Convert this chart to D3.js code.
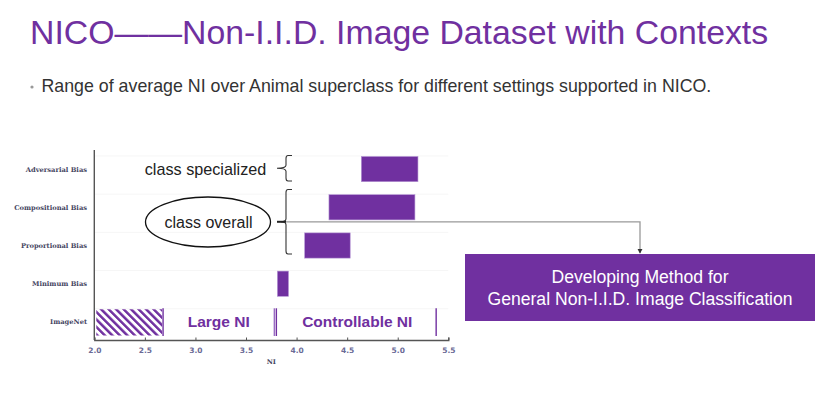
<!DOCTYPE html>
<html>
<head>
<meta charset="utf-8">
<title>NICO NI ranges</title>
<script src="https://d3js.org/d3.v7.min.js"></script>
<style>
  body { margin: 0; background: #fff; }
  text { font-family: "Liberation Sans", Arial, sans-serif; }
  .ylab { font-family: "DejaVu Serif", "Liberation Serif", serif; font-weight: bold; font-size: 6.7px; fill: #45455f; }
  .xtick text { font-family: "DejaVu Sans", sans-serif; font-weight: bold; font-size: 7.5px; fill: #6a6a96; }
</style>
</head>
<body>
<script>

// data
var categories = ["Adversarial Bias", "Compositional Bias", "Proportional Bias", "Minimum Bias", "ImageNet"];
var rangeLow  = [4.64, 4.32, 4.08, 3.81];
var rangeHigh = [5.20, 5.17, 4.53, 3.92];
var imagenetRange = [2.0, 2.67];
var dividers = [2.68, 3.78, 3.80, 5.38];
var dividerColors = ["#7030a0", "#9a6cc4", "#7030a0", "#7030a0"];
var regionLabels = ["Large NI", "Controllable NI"];
var regionCenters = [3.23, 4.60];
var xTicks = [2.0, 2.5, 3.0, 3.5, 4.0, 4.5, 5.0, 5.5];

var purple = "#7030a0";
var W = 825, H = 393;

var svg = d3.select("body").append("svg")
  .attr("width", W)
  .attr("height", H);

// title + bullet line
svg.append("text")
  .attr("x", 30).attr("y", 44)
  .attr("font-size", 33.8)
  .attr("fill", purple)
  .text("NICO\u2014\u2014Non-I.I.D. Image Dataset with Contexts");

svg.append("circle").attr("cx", 32).attr("cy", 87).attr("r", 1.6).attr("fill", "#999");
svg.append("text")
  .attr("x", 41.5).attr("y", 92)
  .attr("font-size", 17.8)
  .attr("fill", "#333")
  .text("Range of average NI over Animal superclass for different settings supported in NICO.");

// scales
var x = d3.scaleLinear().domain([2.0, 5.5]).range([94.3, 448.3]);
var y = d3.scaleBand().domain(categories).range([150, 341]).paddingInner(0.34).paddingOuter(0.17);

var defs = svg.append("defs");
var pat = defs.append("pattern")
  .attr("id", "hatch")
  .attr("patternUnits", "userSpaceOnUse")
  .attr("width", 5.3).attr("height", 5.3)
  .attr("patternTransform", "rotate(-45)");
pat.append("rect").attr("width", 5.3).attr("height", 5.3).attr("fill", "#fff");
pat.append("rect").attr("width", 2.5).attr("height", 5.3).attr("fill", purple);

// faint row edges
svg.append("g").selectAll("line")
  .data(categories)
  .join("line")
  .attr("x1", x(2.0)).attr("x2", x(5.5))
  .attr("y1", function(d) { return y(d) - 0.5; })
  .attr("y2", function(d) { return y(d) - 0.5; })
  .attr("stroke", "#f6f6f6");

// range bars
svg.append("g").selectAll("rect")
  .data(rangeLow)
  .join("rect")
  .attr("x", function(d) { return x(d); })
  .attr("width", function(d, i) { return x(rangeHigh[i]) - x(d); })
  .attr("y", function(d, i) { return y(categories[i]); })
  .attr("height", y.bandwidth())
  .attr("fill", purple)
  .attr("stroke", "#b596d4")
  .attr("stroke-width", 0.6);

// ImageNet row
var yi = y("ImageNet");
svg.append("rect")
  .attr("x", x(imagenetRange[0]) + 2)
  .attr("width", x(imagenetRange[1]) - x(imagenetRange[0]) - 2)
  .attr("y", yi)
  .attr("height", y.bandwidth() + 1)
  .attr("fill", "url(#hatch)");

svg.append("g").selectAll("line")
  .data(dividers)
  .join("line")
  .attr("x1", function(d) { return x(d); })
  .attr("x2", function(d) { return x(d); })
  .attr("y1", yi - 1)
  .attr("y2", yi + y.bandwidth() + 1.5)
  .attr("stroke", function(d, i) { return dividerColors[i]; })
  .attr("stroke-width", 1.4);

svg.append("g").selectAll("text")
  .data(regionLabels)
  .join("text")
  .attr("x", function(d, i) { return x(regionCenters[i]); })
  .attr("y", yi + y.bandwidth() / 2 + 5.5)
  .attr("text-anchor", "middle")
  .attr("font-size", 15.5)
  .attr("font-weight", "bold")
  .attr("fill", purple)
  .text(function(d) { return d; });

// axes
svg.append("line")
  .attr("x1", x(2.0)).attr("x2", x(2.0))
  .attr("y1", 150).attr("y2", 340)
  .attr("stroke", "#555").attr("stroke-width", 1.4);

var xAxis = svg.append("g")
  .attr("class", "xtick")
  .attr("transform", "translate(0,340)")
  .call(d3.axisBottom(x).tickValues(xTicks).tickFormat(d3.format(".1f")).tickSize(-2.5).tickPadding(8));
xAxis.select(".domain").attr("stroke", "#555").attr("stroke-width", 1.4);
xAxis.selectAll(".tick line").attr("stroke", "#555");

svg.append("text")
  .attr("x", (x(2.0) + x(5.5)) / 2).attr("y", 364)
  .attr("text-anchor", "middle")
  .attr("class", "ylab")
  .text("NI");

svg.append("g").selectAll("text")
  .data(categories)
  .join("text")
  .attr("class", "ylab")
  .attr("x", 87)
  .attr("y", function(d) { return y(d) + y.bandwidth() / 2 + 2.5; })
  .attr("text-anchor", "end")
  .text(function(d) { return d; });

// annotations
svg.append("text")
  .attr("x", 205.5).attr("y", 174.5)
  .attr("text-anchor", "middle")
  .attr("font-size", 16.2)
  .attr("fill", "#222")
  .text("class specialized");

function brace(x0, top, bot, tip) {
  var mid = (top + bot) / 2;
  var p = d3.path();
  p.moveTo(x0 + 8, top);
  p.lineTo(x0 + 4, top);
  p.quadraticCurveTo(x0 + 2, top, x0 + 2, top + 3);
  p.lineTo(x0 + 2, mid - 3);
  p.quadraticCurveTo(x0 + 2, mid, x0 - tip, mid);
  p.quadraticCurveTo(x0 + 2, mid, x0 + 2, mid + 3);
  p.lineTo(x0 + 2, bot - 3);
  p.quadraticCurveTo(x0 + 2, bot, x0 + 4, bot);
  p.lineTo(x0 + 8, bot);
  svg.append("path").attr("d", p.toString())
    .attr("fill", "none").attr("stroke", "#333").attr("stroke-width", 1.1);
}
brace(284, 155.5, 181, 7);
brace(284, 189.5, 254, 3);

svg.append("ellipse")
  .attr("cx", 208).attr("cy", 222)
  .attr("rx", 62.5).attr("ry", 25)
  .attr("fill", "none").attr("stroke", "#111").attr("stroke-width", 1.3);
svg.append("text")
  .attr("x", 208.5).attr("y", 228)
  .attr("text-anchor", "middle")
  .attr("font-size", 16)
  .attr("fill", "#222")
  .text("class overall");

svg.append("line")
  .attr("x1", 277).attr("x2", 286).attr("y1", 221.8).attr("y2", 221.8)
  .attr("stroke", "#222").attr("stroke-width", 2);

defs.append("marker")
  .attr("id", "arr")
  .attr("viewBox", "0 0 6 6").attr("refX", 5).attr("refY", 3)
  .attr("markerWidth", 4).attr("markerHeight", 4)
  .attr("orient", "auto")
  .append("path").attr("d", "M0,0L6,3L0,6Z").attr("fill", "#333");

svg.append("path")
  .attr("d", "M286,221.8H640V253")
  .attr("fill", "none")
  .attr("stroke", "#999").attr("stroke-width", 1.3)
  .attr("marker-end", "url(#arr)");

svg.append("rect")
  .attr("x", 465).attr("y", 254)
  .attr("width", 350).attr("height", 67)
  .attr("fill", purple);
svg.append("text")
  .attr("x", 640).attr("y", 283)
  .attr("text-anchor", "middle").attr("font-size", 17.6).attr("fill", "#fff")
  .text("Developing Method for");
svg.append("text")
  .attr("x", 640).attr("y", 304.5)
  .attr("text-anchor", "middle").attr("font-size", 17.6).attr("fill", "#fff")
  .text("General Non-I.I.D. Image Classification");

</script>
</body>
</html>
